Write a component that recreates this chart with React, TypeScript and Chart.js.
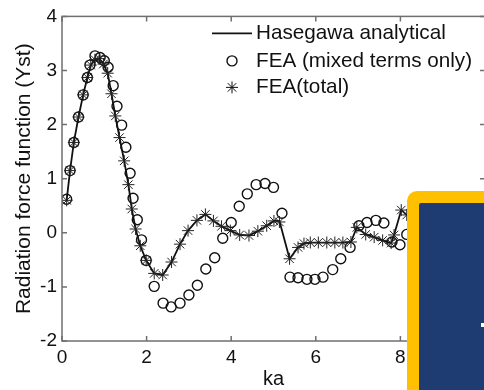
import { useEffect, useRef } from "react";
import { Chart, registerables } from "chart.js";

Chart.register(...registerables);

const FONT = '"Liberation Sans", Arial, Helvetica, sans-serif';
const INK = "#111111";
const FRAME = "#6f6f6f";

// Axis ticks and texts
const xTicks = [0, 2, 4, 6, 8, 10];
const yTicks = [-2, -1, 0, 1, 2, 3, 4];
const seriesNames = ["Hasegawa analytical", "FEA (mixed terms only)", "FEA(total)"];
const xTitle = "ka";
const yTitle = "Radiation force function (Yst)";

// Hasegawa analytical curve
const hasegawaKa = [
  0.11, 0.19, 0.28, 0.39, 0.5, 0.6, 0.68, 0.78, 0.88, 0.98, 1.08, 1.17, 1.26, 1.36, 1.47,
  1.57, 1.65, 1.74, 1.85, 1.99, 2.18, 2.38, 2.59, 2.79, 2.98, 3.19, 3.39, 3.58, 3.77, 3.98,
  4.2, 4.42, 4.63, 4.84, 5.01, 5.14, 5.38, 5.58, 5.72, 5.87, 6.06, 6.26, 6.45, 6.64, 6.83,
  6.97, 7.18, 7.38, 7.58, 7.78, 7.85, 8.02, 8.15,
];
const hasegawaY = [
  0.6, 1.15, 1.67, 2.14, 2.55, 2.87, 3.1, 3.2, 3.22, 3.12, 2.95, 2.57, 2.16, 1.76, 1.33,
  0.89, 0.44, 0.07, -0.24, -0.51, -0.75, -0.78, -0.54, -0.21, 0.04, 0.23, 0.34, 0.22, 0.12, 0.04,
  -0.04, -0.05, 0.03, 0.13, 0.22, 0.22, -0.48, -0.27, -0.2, -0.18, -0.18, -0.18, -0.18, -0.18, -0.17,
  0.1, -0.03, -0.08, -0.14, -0.19, -0.04, 0.42, 0.33,
];

// FEA, mixed terms only (circles)
const mixedKa = [
  0.11, 0.19, 0.28, 0.39, 0.5, 0.6, 0.66, 0.78, 0.9, 1.0, 1.09, 1.21, 1.3, 1.41, 1.51, 1.61,
  1.68, 1.78, 1.88, 1.99, 2.18, 2.39, 2.58, 2.79, 3.0, 3.2, 3.4, 3.61, 3.8, 4.0, 4.19, 4.38,
  4.59, 4.8, 5.0, 5.2, 5.39, 5.58, 5.79, 5.98, 6.17, 6.4, 6.59, 6.81, 7.02, 7.21, 7.42, 7.61,
  7.8, 7.99, 8.15,
];
const mixedY = [
  0.62, 1.15, 1.67, 2.14, 2.55, 2.87, 3.1, 3.27, 3.24, 3.18, 3.06, 2.72, 2.34, 1.99, 1.58, 1.1,
  0.64, 0.24, -0.13, -0.51, -0.99, -1.3, -1.37, -1.3, -1.15, -0.97, -0.67, -0.46, -0.1, 0.19, 0.49, 0.72,
  0.89, 0.91, 0.84, 0.36, -0.82, -0.83, -0.86, -0.86, -0.82, -0.68, -0.48, -0.27, 0.13, 0.19, 0.23, 0.18,
  -0.17, -0.22, -0.03,
];

// FEA, total (asterisks)
const totalKa = [
  0.11, 0.19, 0.28, 0.39, 0.5, 0.6, 0.68, 0.78, 0.88, 0.98, 1.08, 1.17, 1.26, 1.36, 1.47,
  1.57, 1.65, 1.74, 1.85, 1.99, 2.18, 2.38, 2.59, 2.79, 2.98, 3.19, 3.39, 3.58, 3.77, 3.98,
  4.2, 4.42, 4.63, 4.84, 5.01, 5.14, 5.38, 5.58, 5.72, 5.87, 6.06, 6.26, 6.45, 6.64, 6.83,
  6.97, 7.18, 7.38, 7.58, 7.78, 7.85, 8.02, 8.15,
];
const totalY = [
  0.6, 1.15, 1.67, 2.14, 2.55, 2.87, 3.1, 3.2, 3.22, 3.12, 2.95, 2.57, 2.16, 1.76, 1.33,
  0.89, 0.44, 0.07, -0.24, -0.51, -0.75, -0.78, -0.54, -0.21, 0.04, 0.23, 0.34, 0.22, 0.12, 0.04,
  -0.04, -0.05, 0.03, 0.13, 0.22, 0.2, -0.48, -0.27, -0.2, -0.18, -0.18, -0.18, -0.18, -0.18, -0.17,
  0.1, -0.03, -0.08, -0.14, -0.19, -0.04, 0.42, 0.33,
];

const pairs = (xs: number[], ys: number[]) => xs.map((x, i) => ({ x, y: ys[i] }));

function drawStar(ctx: CanvasRenderingContext2D, cx: number, cy: number, r: number) {
  ctx.beginPath();
  for (let k = 0; k < 4; k++) {
    const a = (k * Math.PI) / 4;
    ctx.moveTo(cx - r * Math.cos(a), cy - r * Math.sin(a));
    ctx.lineTo(cx + r * Math.cos(a), cy + r * Math.sin(a));
  }
  ctx.stroke();
}

// Box frame with inward ticks on all four sides, plus the in-plot legend
const framePlugin = {
  id: "matlabFrame",
  afterDatasetsDraw(chart: any) {
    const { ctx, chartArea: a, scales } = chart;
    ctx.save();
    ctx.strokeStyle = FRAME;
    ctx.lineWidth = 1.5;
    ctx.strokeRect(a.left, a.top, a.right - a.left, a.bottom - a.top);
    const len = 5;
    ctx.beginPath();
    xTicks.forEach((v) => {
      const px = scales.x.getPixelForValue(v);
      ctx.moveTo(px, a.bottom);
      ctx.lineTo(px, a.bottom - len);
      ctx.moveTo(px, a.top);
      ctx.lineTo(px, a.top + len);
    });
    yTicks.forEach((v) => {
      const py = scales.y.getPixelForValue(v);
      ctx.moveTo(a.left, py);
      ctx.lineTo(a.left + len, py);
      ctx.moveTo(a.right, py);
      ctx.lineTo(a.right - len, py);
    });
    ctx.stroke();

    // legend
    const lx = a.left + 150;
    const rows = [a.top + 17, a.top + 44.5, a.top + 71];
    ctx.strokeStyle = INK;
    ctx.lineWidth = 1.8;
    ctx.beginPath();
    ctx.moveTo(lx, rows[0]);
    ctx.lineTo(lx + 40, rows[0]);
    ctx.stroke();
    ctx.lineWidth = 1.4;
    ctx.beginPath();
    ctx.arc(lx + 20, rows[1], 5, 0, Math.PI * 2);
    ctx.stroke();
    ctx.lineWidth = 1;
    drawStar(ctx, lx + 20, rows[2], 6);
    ctx.fillStyle = INK;
    ctx.font = `20.7px ${FONT}`;
    ctx.textAlign = "left";
    ctx.textBaseline = "middle";
    seriesNames.forEach((name, i) => ctx.fillText(name, lx + 44, rows[i]));
    ctx.restore();
  },
};

export default function App() {
  const ref = useRef<HTMLCanvasElement | null>(null);

  useEffect(() => {
    if (!ref.current) return;
    Chart.defaults.font.family = FONT;
    const chart = new Chart(ref.current, {
      type: "scatter",
      data: {
        datasets: [
          {
            label: seriesNames[0],
            data: pairs(hasegawaKa, hasegawaY),
            showLine: true,
            fill: false,
            tension: 0,
            borderColor: INK,
            borderWidth: 1.8,
            pointRadius: 0,
            order: 3,
          },
          {
            label: seriesNames[1],
            data: pairs(mixedKa, mixedY),
            showLine: false,
            pointStyle: "circle",
            pointRadius: 5,
            pointBorderColor: INK,
            pointBackgroundColor: "rgba(0,0,0,0)",
            pointBorderWidth: 1.4,
            order: 2,
          },
          {
            label: seriesNames[2],
            data: pairs(totalKa, totalY),
            showLine: false,
            pointStyle: "star",
            pointRadius: 6,
            pointBorderColor: "#222222",
            pointBorderWidth: 1,
            order: 1,
          },
        ],
      },
      options: {
        responsive: false,
        animation: false,
        events: [],
        layout: { padding: { left: 0, top: 15, right: 55, bottom: 0 } },
        plugins: { legend: { display: false }, tooltip: { enabled: false } },
        scales: {
          x: {
            type: "linear",
            min: 0,
            max: 10,
            grid: { display: false, drawTicks: false },
            border: { display: false },
            afterBuildTicks: (s: any) => {
              s.ticks = xTicks.map((value) => ({ value }));
            },
            afterFit: (s: any) => {
              s.height = 49;
            },
            ticks: { padding: 5, color: INK, font: { size: 19 }, maxRotation: 0 },
            title: {
              display: true,
              text: xTitle,
              color: INK,
              font: { size: 20, lineHeight: 1.05 },
              padding: { top: 0, bottom: 0 },
            },
          },
          y: {
            type: "linear",
            min: -2,
            max: 4,
            grid: { display: false, drawTicks: false },
            border: { display: false },
            afterBuildTicks: (s: any) => {
              s.ticks = yTicks.map((value) => ({ value }));
            },
            afterFit: (s: any) => {
              s.width = 62;
            },
            ticks: { padding: 5, color: INK, font: { size: 19 } },
            title: {
              display: true,
              text: yTitle,
              color: INK,
              font: { size: 21 },
              padding: { top: 12, bottom: 0 },
            },
          },
        },
      },
      plugins: [framePlugin],
    });
    return () => chart.destroy();
  }, []);

  return (
    <div
      style={{
        position: "fixed",
        left: 0,
        top: 0,
        width: 484,
        height: 390,
        overflow: "hidden",
        background: "#ffffff",
      }}
    >
      <canvas
        ref={ref}
        width={540}
        height={390}
        style={{ position: "absolute", left: 0, top: 0, width: 540, height: 390 }}
      />
      <div
        style={{
          position: "absolute",
          left: 407,
          top: 191,
          width: 110,
          height: 230,
          background: "#ffc000",
          borderRadius: 10,
        }}
      />
      <div
        style={{
          position: "absolute",
          left: 419,
          top: 203,
          width: 90,
          height: 210,
          background: "#1f3c72",
          borderRadius: 2,
        }}
      />
      <div
        style={{
          position: "absolute",
          left: 481,
          top: 323,
          width: 3,
          height: 4,
          background: "#ffffff",
        }}
      />
    </div>
  );
}
